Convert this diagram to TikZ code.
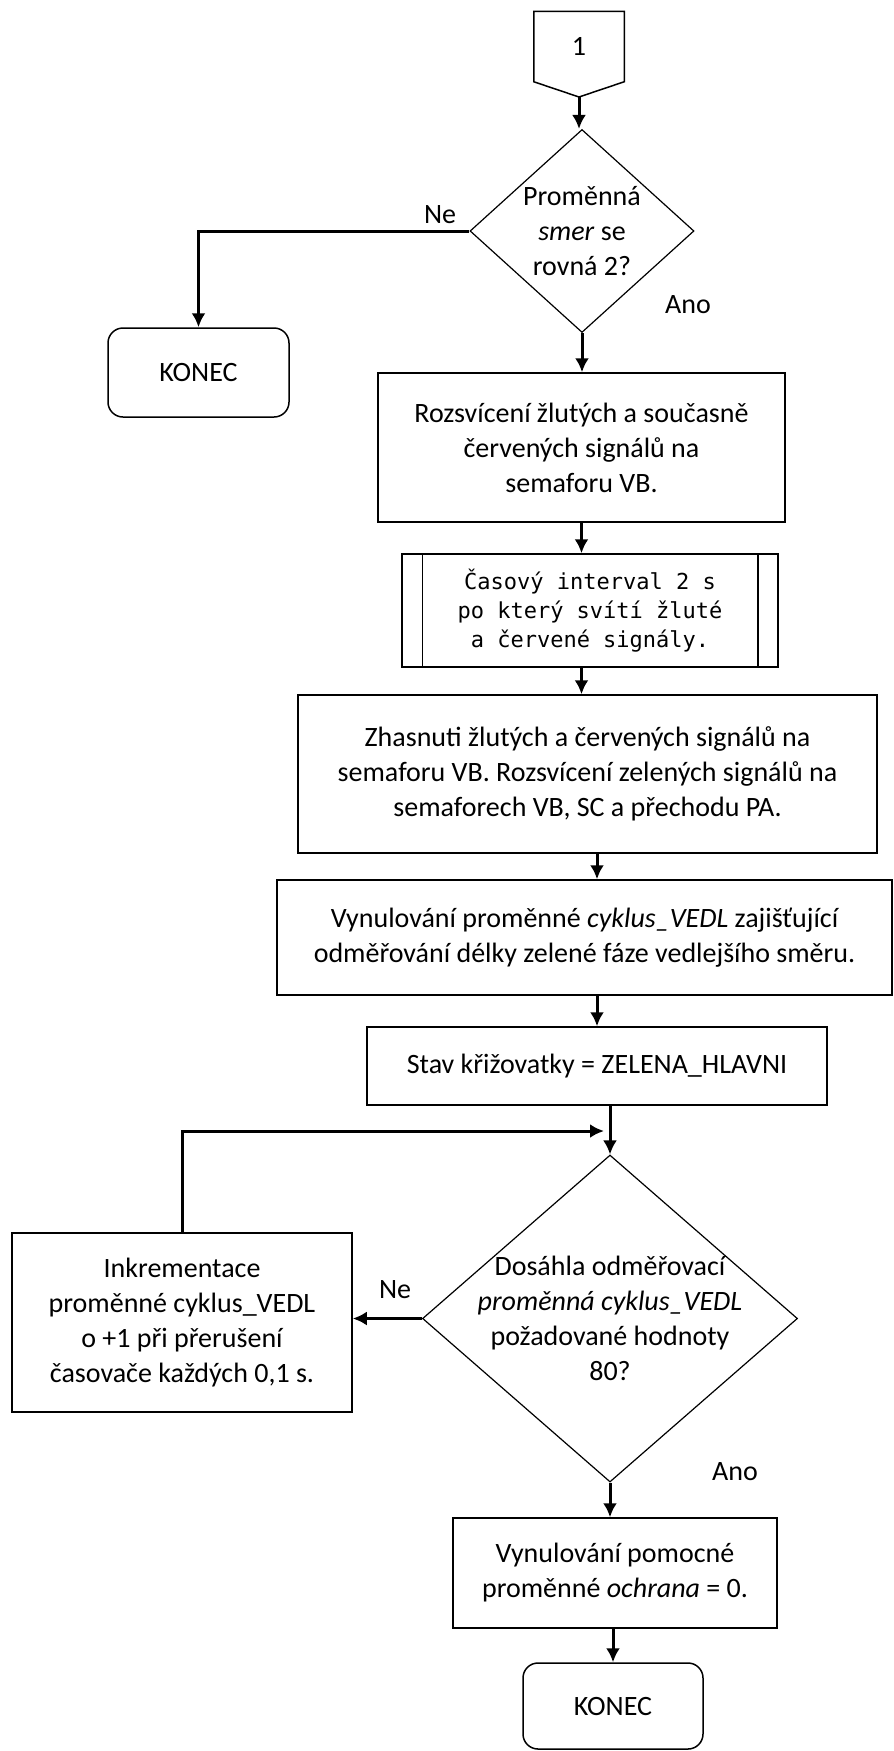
\documentclass[tikz,border=0pt]{standalone}
\usepackage{fontspec}
\setmainfont{Carlito}
\setmonofont{DejaVu Sans Mono}
\usetikzlibrary{shapes.geometric,arrows.meta}

\begin{document}
\begin{tikzpicture}[x=1pt,y=-1pt]
    % 自定义字体
    \newcommand{\BoxFont}{\fontsize{28}{35}\selectfont}
    \newcommand{\MonoFont}{\fontsize{22}{29}\selectfont\ttfamily}
    % --- 设置全局样式 ---
    \tikzset{
        every node/.style = {font=\BoxFont},
        ProcessStyle/.style = {
            rectangle,              % 形状：矩形
            draw=black,             % 边框颜色
            line width=1.5pt,       % 边框粗细
            inner sep=0pt,          % 内部文字边距
            align=center            % 文字居中
        },
        TerminalStyle/.style = {ProcessStyle, rounded corners=15pt},
        DecisionStyle/.style = {
            diamond,                % 形状：菱形
            draw=black,
            line width=1.2pt,
            inner sep=0pt
        },
        EdgeStyle/.style = {
            ->,                     % 箭头
            >={Latex[length=14pt,width=14pt]},
            line width=3pt,         % 线条粗细
            color=black
        }
    }
    \useasboundingbox (0,0) rectangle (894,1751);

    % --- 定义节点 ---
    % 起点：页外连接符
    \coordinate (conpt) at (579,97);
    \node[ProcessStyle, draw=none, minimum width=89pt, minimum height=69pt] (con) at (579,46.5) {1};
    \draw[line width=1.5pt] (con.north west) -- (con.north east) -- (con.south east)
        -- (conpt) -- (con.south west) -- cycle;

    % 第一个判断
    \node[DecisionStyle, minimum width=224pt, minimum height=203pt,
          label={[align=center]center:{Proměnná\\\textit{smer} se\\rovná 2?}}] (d1) at (582,231) {};
    \node[TerminalStyle, minimum width=181pt, minimum height=89pt] (k1) at (198.5,372.5) {KONEC};

    % 中间处理步骤
    \node[ProcessStyle, minimum width=407pt, minimum height=149pt] (r1) at (581.5,447.5)
        {Rozsvícení žlutých a současně\\červených signálů na\\semaforu VB.};
    \node[ProcessStyle, minimum width=376pt, minimum height=113pt, font=\MonoFont] (r2) at (590,610.5)
        {Časový interval 2 s\\po který svítí žluté\\a červené signály.};
    \draw[line width=1.5pt] ([xshift=21pt]r2.north west) -- ([xshift=21pt]r2.south west);
    \draw[line width=1.5pt] ([xshift=-21pt]r2.north east) -- ([xshift=-21pt]r2.south east);
    \node[ProcessStyle, minimum width=579pt, minimum height=158pt] (r3) at (587.5,774)
        {Zhasnuti žlutých a červených signálů na\\semaforu VB. Rozsvícení zelených signálů na\\semaforech VB, SC a přechodu PA.};
    \node[ProcessStyle, minimum width=615pt, minimum height=115pt] (r4) at (584.5,937.5)
        {Vynulování proměnné \textit{cyklus\_VEDL} zajišťující\\odměřování délky zelené fáze vedlejšího směru.};
    \node[ProcessStyle, minimum width=460pt, minimum height=78pt] (r5) at (597,1066)
        {Stav křižovatky = ZELENA\_HLAVNI};

    % 第二个判断（循环）
    \node[DecisionStyle, minimum width=375pt, minimum height=327pt,
          label={[align=center]center:{Dosáhla odměřovací\\\textit{proměnná cyklus\_VEDL}\\požadované hodnoty\\80?}}] (d2) at (610,1318.5) {};
    \node[ProcessStyle, minimum width=340pt, minimum height=179pt] (r6) at (182,1322.5)
        {Inkrementace\\proměnné cyklus\_VEDL\\o +1 při přerušení\\časovače každých 0,1 s.};
    \coordinate (join) at (604,1131);

    % 结束部分
    \node[ProcessStyle, minimum width=324pt, minimum height=110pt] (r7) at (615,1573)
        {Vynulování pomocné\\proměnné \textit{ochrana} = 0.};
    \node[TerminalStyle, minimum width=180pt, minimum height=86pt] (k2) at (613,1706) {KONEC};

    % 分支标签
    \node (ne1) at (440,215) {Ne};
    \node (ano1) at (688,305) {Ano};
    \node (ne2) at (395,1290) {Ne};
    \node (ano2) at (735,1472) {Ano};

    % --- 定义连线 ---
    \draw[EdgeStyle] (conpt) -- (conpt |- d1.north);
    \draw[EdgeStyle] (d1.west) -| (k1.north);        % Ne
    \draw[EdgeStyle] (d1.south) -- (d1.south |- r1.north); % Ano
    \draw[EdgeStyle] (r1.south) -- (r1.south |- r2.north);
    \draw[EdgeStyle] (r2.south -| r1.south) -- (r1.south |- r3.north);
    \draw[EdgeStyle] (r3.south -| r5.north) -- (r5.north |- r4.north);
    \draw[EdgeStyle] (r4.south -| r5.north) -- (r5.north);
    \draw[EdgeStyle] (r5.south -| d2.north) -- (d2.north);
    \draw[EdgeStyle] (r6.north) |- (join);           % 循环返回
    \draw[EdgeStyle] (d2.west) -- (d2.west -| r6.east); % Ne
    \draw[EdgeStyle] (d2.south) -- (d2.south |- r7.north); % Ano
    \draw[EdgeStyle] (r7.south -| k2.north) -- (k2.north);

\end{tikzpicture}
\end{document}
